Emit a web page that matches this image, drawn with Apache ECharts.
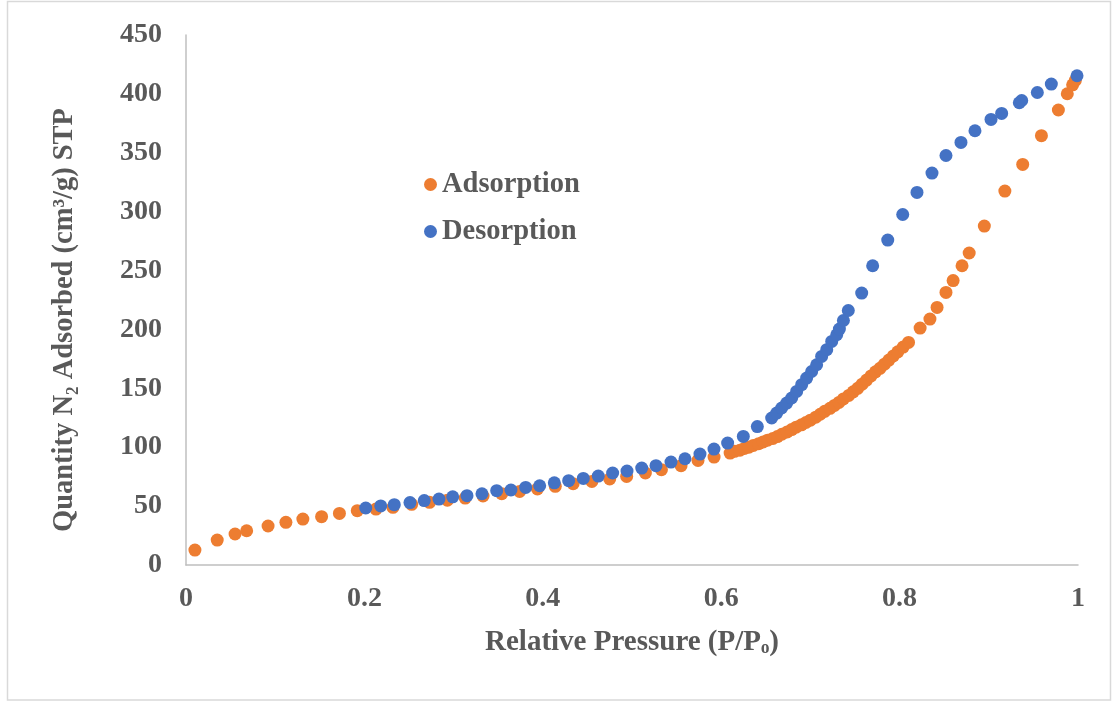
<!DOCTYPE html>
<html>
<head>
<meta charset="utf-8">
<script src="https://cdn.jsdelivr.net/npm/echarts@6/dist/echarts.min.js"></script>
<style>html,body{margin:0;padding:0;background:#fff}#c{width:1117px;height:702px}</style>
</head>
<body>
<div id="c"></div>
<script>
// Adsorption branch (P/P0, quantity)
const adsX = [0.010,0.035,0.055,0.068,0.092,0.112,0.131,0.152,0.172,0.192,0.213,0.232,
  0.253,0.273,0.293,0.313,0.333,0.354,0.374,0.394,0.414,0.434,0.455,0.475,0.494,0.515,0.533,0.555,0.574,0.592,
  0.610,0.615,0.621,0.626,0.631,0.636,0.642,0.647,0.652,0.658,0.663,0.668,0.674,0.679,0.684,0.690,0.695,0.700,
  0.706,0.711,0.716,0.722,0.727,0.732,0.737,0.743,0.748,0.753,0.758,0.763,0.768,0.773,0.778,0.783,0.788,0.793,
  0.798,0.804,0.810,
  0.823,0.834,0.842,0.852,0.860,0.870,0.878,0.895,0.918,0.938,0.959,0.978,0.988,0.994,0.997];
const adsY = [12.7,21.2,26.3,29.1,33.1,36.2,39.0,41.0,43.8,46.1,47.5,49.0,
  51.5,53.2,55.0,56.8,58.6,60.6,62.5,64.6,66.8,69.0,71.0,73.0,75.2,78.1,80.9,84.3,88.8,91.6,
  95.0,96.5,97.5,99.0,100.0,101.5,103.0,104.5,106.0,107.5,109.0,111.0,113.0,115.0,117.0,119.0,121.0,123.0,
  125.5,128.0,130.5,133.0,135.5,138.0,141.0,144.0,147.0,150.0,153.5,157.0,160.5,164.0,167.0,170.5,174.0,177.5,
  181.0,185.0,189.0,
  201.2,208.8,218.7,231.4,241.5,254.1,264.9,287.8,317.5,340.1,364.5,386.3,400.1,407.7,411.4];

// Desorption branch
const desX = [0.2015,0.2183,0.2335,0.2511,0.2671,0.2836,0.2990,0.3150,0.3318,0.3483,0.3643,0.3808,0.3965,0.4129,
  0.4290,0.4454,0.4622,0.4783,0.4944,0.5109,0.5269,0.5437,0.5594,0.5762,0.5919,0.6072,0.6248,0.6405,
  0.6566,0.6622,0.6678,0.6734,0.6790,0.6846,0.6902,0.6958,0.7014,0.7070,0.7126,0.7183,0.7239,0.7295,0.7325,0.7370,0.7425,
  0.7575,0.7698,0.7867,0.8035,0.8195,0.8363,0.8520,0.8688,0.8845,0.9025,0.9144,0.9342,0.9369,0.9544,0.9701,0.9989];
const desY = [48.4,50.2,51.2,53.0,54.7,56.0,57.9,58.9,60.5,63.1,63.7,65.9,67.3,69.8,
  71.6,73.5,75.5,78.1,79.8,82.3,84.3,87.4,90.2,94.2,98.4,103.5,109.2,117.5,
  124.8,129.0,133.3,137.5,141.8,147.4,153.1,158.7,164.3,170.0,177.1,182.8,189.8,195.5,200.3,207.6,216.1,
  230.9,254.1,275.9,297.6,316.3,332.8,347.7,358.8,368.7,378.3,383.4,392.5,394.4,401.2,408.3,415.4];

const xTicks = ['0','0.2','0.4','0.6','0.8','1'];
const seriesNames = ['Adsorption','Desorption'];
const xTitle = 'Relative Pressure (P/P\u2092)';
const yTitle = 'Quantity N\u2082 Adsorbed (cm\u00B3/g) STP';

const zip = (xs, ys) => xs.map((x, i) => [x, ys[i]]);
const font = '"Liberation Serif", "Times New Roman", serif';
const txt = '#595959';

const chart = echarts.init(document.getElementById('c'), null, {renderer: 'canvas'});
chart.setOption({
  animation: false,
  backgroundColor: '#fff',
  grid: {left: 186, right: 39, top: 35, bottom: 137},
  graphic: [{
    type: 'rect', silent: true, z: -10,
    shape: {x: 7.5, y: 1.5, width: 1103, height: 698.5},
    style: {fill: 'none', stroke: '#d9d9d9', lineWidth: 1.5}
  }],
  legend: {
    orient: 'vertical', left: 419, top: 165, itemGap: 18,
    itemWidth: 13, itemHeight: 13, icon: 'circle',
    data: seriesNames,
    textStyle: {fontFamily: font, fontWeight: 'bold', fontSize: 28.5, color: txt}
  },
  xAxis: {
    type: 'value', min: 0, max: 1, interval: 0.2,
    axisLine: {show: true, lineStyle: {color: '#bfbfbf', width: 1.5}},
    axisTick: {show: false}, splitLine: {show: false},
    axisLabel: {margin: 20, fontFamily: font, fontWeight: 'bold', fontSize: 28, color: txt,
      formatter: (v) => xTicks[Math.round(v / 0.2)]},
    name: xTitle, nameLocation: 'middle', nameGap: 63,
    nameTextStyle: {fontFamily: font, fontWeight: 'bold', fontSize: 29, color: txt}
  },
  yAxis: {
    type: 'value', min: 0, max: 450, interval: 50,
    axisLine: {show: true, lineStyle: {color: '#bfbfbf', width: 1.5}},
    axisTick: {show: false}, splitLine: {show: false},
    axisLabel: {margin: 24, fontFamily: font, fontWeight: 'bold', fontSize: 28, color: txt},
    name: yTitle, nameLocation: 'middle', nameGap: 107, nameRotate: 90,
    nameTextStyle: {fontFamily: font, fontWeight: 'bold', fontSize: 28.5, color: txt, padding: [0, 40, 0, 0]}
  },
  series: [
    {name: seriesNames[0], type: 'scatter', symbolSize: 13, data: zip(adsX, adsY),
      itemStyle: {color: '#ED7D31', opacity: 1}},
    {name: seriesNames[1], type: 'scatter', symbolSize: 13, data: zip(desX, desY),
      itemStyle: {color: '#4472C4', opacity: 1}}
  ]
});
</script>
</body>
</html>
